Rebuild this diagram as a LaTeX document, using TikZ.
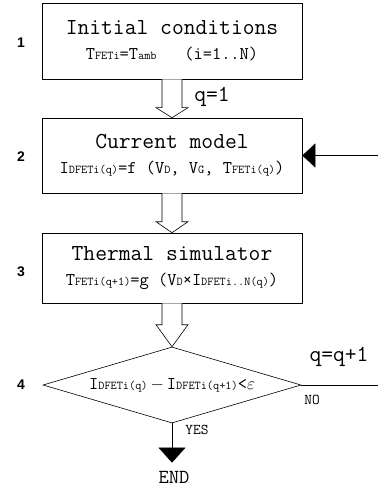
\documentclass[tikz,border=0pt]{standalone}
\usepackage{fontspec}
\newfontfamily\arial{Liberation Sans}
\usetikzlibrary{positioning, shapes.geometric, arrows.meta, calc}

% small index letters and the two text sizes
\newcommand{\lo}[1]{{\fontsize{12}{12}\selectfont #1}}
\newcommand{\hd}{\fontsize{23}{25}\selectfont}
\newcommand{\fm}{\fontsize{18}{20}\selectfont}

% hollow block arrow from one node down to the next
\newcommand{\blockarrow}[3]{%
    \draw[fill=white] ($(#1.south)+(-10,0)$) -- ($(#2.north)+(-10,-#3)$)
        -- ($(#2.north)+(-16,-#3)$) -- (#2.north) -- ($(#2.north)+(16,-#3)$)
        -- ($(#2.north)+(10,-#3)$) -- ($(#1.south)+(10,0)$);
}

\begin{document}
\begin{tikzpicture}[
    x=1bp, y=-1bp,
    line width=0.6bp,
    block/.style={draw, minimum width=260bp, align=center, inner sep=0pt, font=\ttfamily\hd},
    test/.style={draw, diamond, aspect=3.4, minimum width=258bp, minimum height=76bp, inner sep=0pt, font=\ttfamily\fm},
    stepno/.style={font=\arial\bfseries\fontsize{14}{14}\selectfont},
    note/.style={font=\ttfamily\fontsize{23}{23}\selectfont},
    small/.style={font=\ttfamily\fontsize{15}{15}\selectfont},
    filltip/.style={-{Triangle[length=13bp, width=24bp]}}
]
\useasboundingbox (0,0) rectangle (378,490);

% Steps
\node[block, minimum height=76bp] (init) at (172,41)
    {Initial conditions\\{\fm T\lo{FETi}=T\lo{amb}\ \ \ (i=1..N)}};
\node[block, minimum height=75bp] (cur) at (172,155.5)
    {Current model\\{\fm I\lo{DFETi(q)}=f (V\lo{D}, V\lo{G}, T\lo{FETi(q)})}};
\node[block, minimum height=70bp] (sim) at (172,268)
    {Thermal simulator\\{\fm T\lo{FETi(q+1)}=g (V\lo{D}×I\lo{DFETi..N(q)})}};
\node[test] (cmp) at (172,385) {I\lo{DFETi(q)}\,$-$\,I\lo{DFETi(q+1)}<$\varepsilon$};

% Step numbers
\node[stepno] (n1) at (21,43) {1};
\node[stepno] (n2) at (21,157) {2};
\node[stepno] (n3) at (21,272) {3};
\node[stepno] (n4) at (21,385) {4};

% Flow between steps
\blockarrow{init}{cur}{10}
\blockarrow{cur}{sim}{11}
\blockarrow{sim}{cmp}{22}
\node[note] (qone) at (212,97) {q=1};

% Loop back
\coordinate (loopout) at (378,385);
\coordinate (loopin) at (378,155.5);
\draw (cmp.east) -- (loopout);
\draw[filltip] (loopin) -- (cur.east);
\node[note] (qinc) at (339,357) {q=q+1};
\node[small] (no) at (312,400) {NO};

% Exit
\node[note, font=\ttfamily\fontsize{20}{20}\selectfont, inner sep=0pt] (fin) at (174,477) {END};
\draw[-{Triangle[length=15bp, width=27bp]}, shorten >=8bp] (cmp.south) -- (fin.north -| cmp.south);
\node[small] (yes) at (197,430) {YES};

\end{tikzpicture}
\end{document}
